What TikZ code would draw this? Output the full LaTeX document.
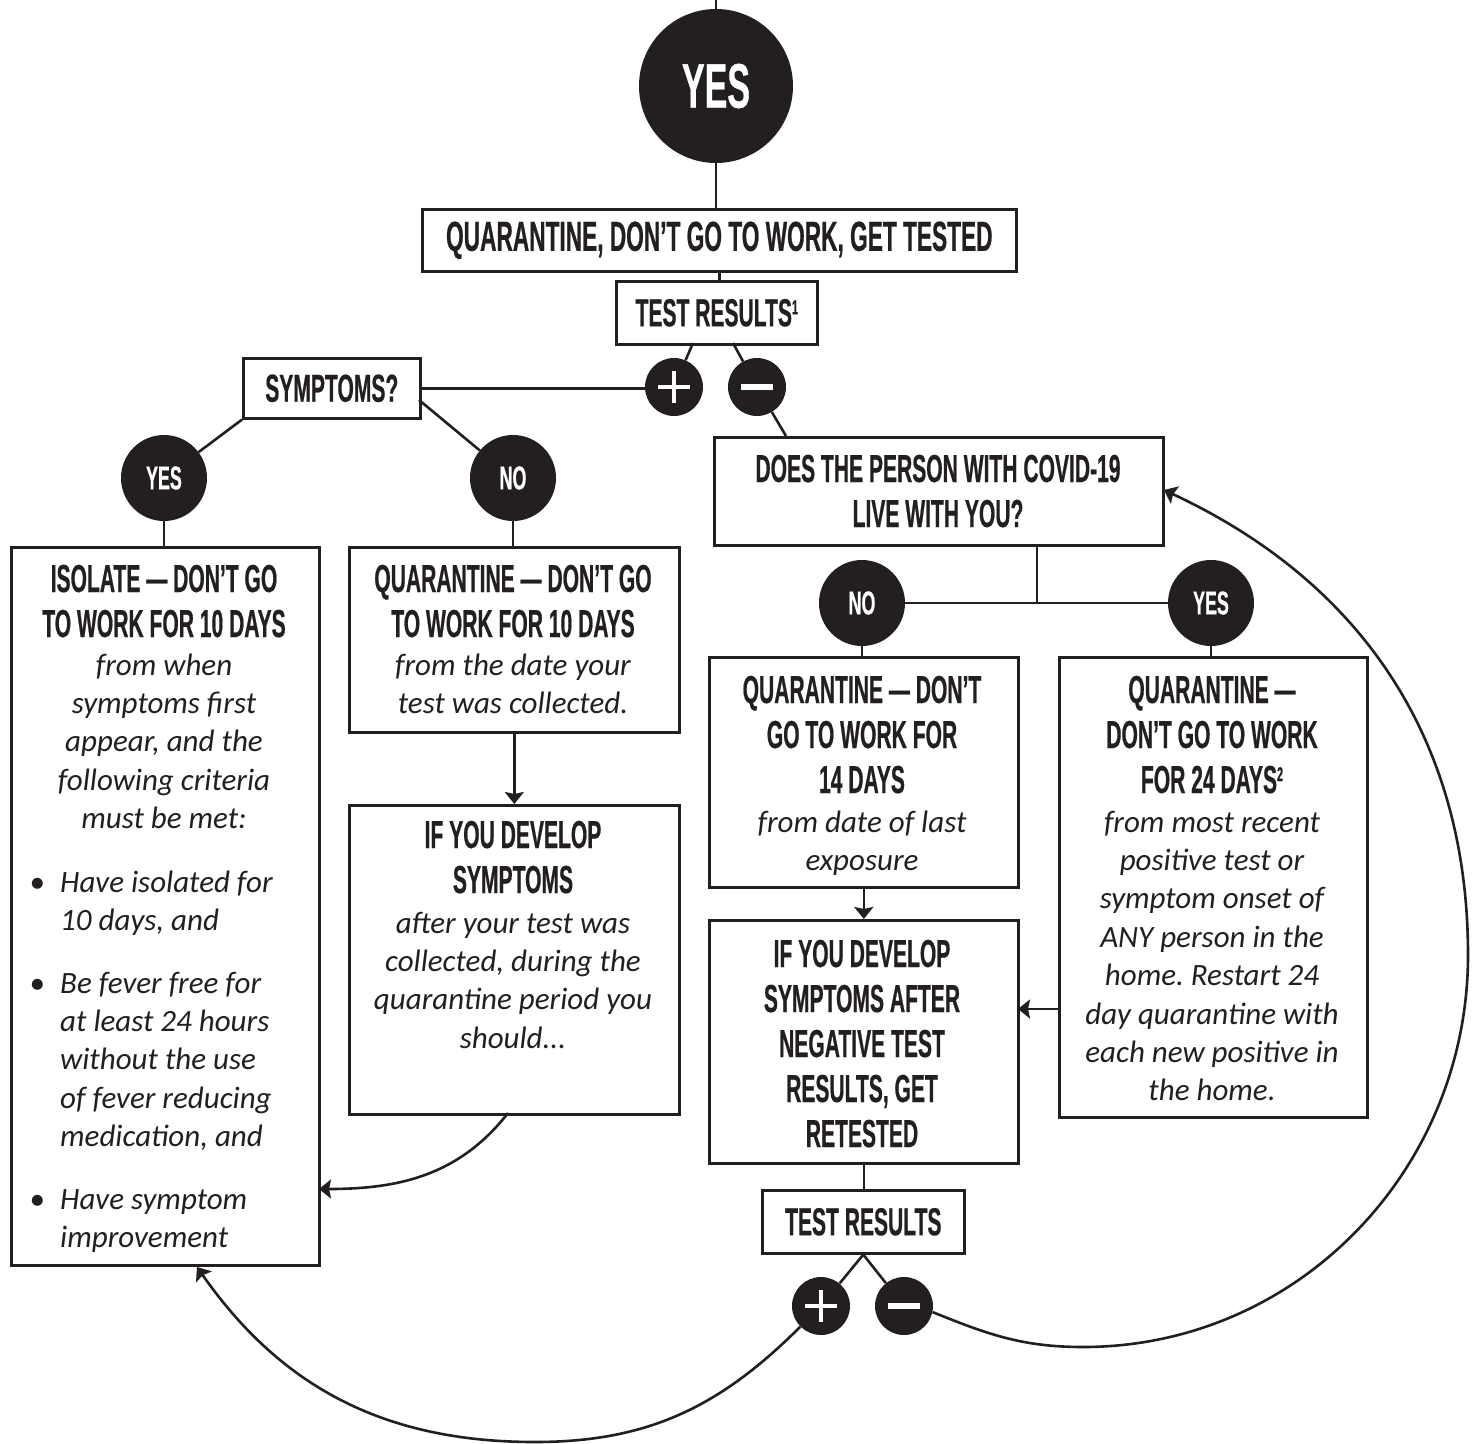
\documentclass[tikz,border=0pt]{standalone}
\usepackage{fontspec}
\usetikzlibrary{arrows.meta}
\newfontfamily\headfont[FakeStretch=0.54, BoldFeatures={FakeBold=0.5}]{Liberation Sans}
\newfontfamily\itfont{Carlito}
\definecolor{ink}{HTML}{231F20}
\frenchspacing
\newcommand{\supnum}[1]{\raisebox{12pt}{\fontsize{20}{20}\selectfont #1}}
\newcommand{\mlc}[1]{\begin{tabular}[t]{@{}c@{}}#1\end{tabular}}
\newcommand{\mll}[1]{\begin{tabular}[t]{@{}l@{}}#1\end{tabular}}
\tikzset{
  box/.style={rectangle, draw=ink, line width=2.6pt, fill=white, inner sep=0pt, anchor=north west,
              font=\headfont\bfseries\fontsize{39}{45}\selectfont, text=ink},
  dot/.style={circle, fill=ink, draw=none, inner sep=0pt, minimum size=86pt, text=white,
              font=\headfont\bfseries\fontsize{33}{33}\selectfont},
  pm/.style={circle, fill=ink, draw=none, inner sep=0pt, minimum size=58pt},
  sign/.style={draw=white, line width=3.2pt},
  signm/.style={draw=white, line width=6pt},
  hd/.style={font=\headfont\bfseries\fontsize{39}{45}\selectfont, text=ink, inner sep=0pt, anchor=base},
  it/.style={font=\itfont\itshape\fontsize{31}{38.4}\selectfont, text=ink, inner sep=0pt, anchor=base},
  itl/.style={it, anchor=base west},
  conn/.style={draw=ink, line width=2.6pt},
  arr/.style={conn, -{Stealth[length=12pt,width=19pt,inset=2pt]}},
}
\begin{document}
\begin{tikzpicture}[x=1pt,y=1pt]
\fill[white] (0,0) rectangle (1475,-1443);
\useasboundingbox (0,0) rectangle (1475,-1443);

% ---------- top ----------
\coordinate (top) at (716,0);
\node[circle, fill=ink, inner sep=0pt, minimum size=154pt, text=white,
      font=\headfont\bfseries\fontsize{63}{63}\selectfont] (bigyes) at (716,-86) {YES};
\node[box, minimum width=594pt, minimum height=62pt, font=\headfont\bfseries\fontsize{42}{48}\selectfont]
   (q1) at (421,-208) {QUARANTINE, DON’T GO TO WORK, GET TESTED};
\node[box, minimum width=201pt, minimum height=63pt] (tr1) at (615,-280) {TEST RESULTS\supnum{1}};
\node[pm] (p1) at (674,-387) {};
\node[pm] (m1) at (757,-387) {};
\node[box, minimum width=177pt, minimum height=60pt] (sym) at (242,-357) {SYMPTOMS?};

% ---------- left ----------
\node[dot] (yes1) at (164,-478) {YES};
\node[dot] (no1) at (513,-478) {NO};
\node[box, minimum width=308pt, minimum height=718pt] (iso) at (10,-546) {};
\node[box, minimum width=330pt, minimum height=185pt] (qno) at (348,-546) {};
\node[box, minimum width=330pt, minimum height=309pt] (dev) at (348,-804) {};

\node[hd] (isoh) at (164,-592) {\mlc{ISOLATE — DON’T GO\\TO WORK FOR 10 DAYS}};
\node[it] (isot) at (164,-675) {\mlc{from when\\symptoms first\\appear, and the\\following criteria\\must be met:}};
\node[it] (d1) at (37,-892) {•};
\node[itl] (b1) at (60,-892) {\mll{Have isolated for\\10 days, and}};
\node[it] (d2) at (37,-993) {•};
\node[itl] (b2) at (60,-993) {\mll{Be fever free for\\at least 24 hours\\without the use\\of fever reducing\\medication, and}};
\node[it] (d3) at (37,-1209) {•};
\node[itl] (b3) at (60,-1209) {\mll{Have symptom\\improvement}};

\node[hd] (qnoh) at (513,-592) {\mlc{QUARANTINE — DON’T GO\\TO WORK FOR 10 DAYS}};
\node[it] (qnot) at (513,-675) {\mlc{from the date your\\test was collected.}};
\node[hd] (devh) at (513,-848) {\mlc{IF YOU DEVELOP\\SYMPTOMS}};
\node[it] (devt) at (513,-933) {\mlc{after your test was\\collected, during the\\quarantine period you\\should...}};

% ---------- right ----------
\node[box, minimum width=449pt, minimum height=108pt] (does) at (713,-436) {};
\node[hd] (doesh) at (938,-482) {\mlc{DOES THE PERSON WITH COVID-19\\LIVE WITH YOU?}};
\node[dot] (no2) at (862,-603) {NO};
\node[dot] (yes2) at (1211,-603) {YES};
\node[box, minimum width=309pt, minimum height=230pt] (q14) at (708,-656) {};
\node[box, minimum width=308pt, minimum height=460pt] (q24) at (1058,-656) {};
\node[box, minimum width=309pt, minimum height=243pt] (dev2) at (708,-919) {};
\node[box, minimum width=202pt, minimum height=63pt] (tr2) at (761,-1189) {TEST RESULTS};
\node[pm] (p2) at (821,-1306) {};
\node[pm] (m2) at (904,-1306) {};

\node[hd] (q14h) at (862,-703) {\mlc{QUARANTINE — DON’T\\GO TO WORK FOR\\14 DAYS}};
\node[it] (q14t) at (862,-832) {\mlc{from date of last\\exposure}};
\node[hd] (q24h) at (1212,-703) {\mlc{QUARANTINE —\\DON’T GO TO WORK\\FOR 24 DAYS\supnum{2}}};
\node[it] (q24t) at (1212,-832) {\mlc{from most recent\\positive test or\\symptom onset of\\ANY person in the\\home. Restart 24\\day quarantine with\\each new positive in\\the home.}};
\node[hd] (dev2h) at (862,-967) {\mlc{IF YOU DEVELOP\\SYMPTOMS AFTER\\NEGATIVE TEST\\RESULTS, GET\\RETESTED}};

% ---------- plus / minus signs ----------
\foreach \c in {p1,p2}{
  \draw[sign] ([xshift=-16pt]\c.center) -- ([xshift=16pt]\c.center);
  \draw[sign] ([yshift=-16pt]\c.center) -- ([yshift=16pt]\c.center);
}
\foreach \c in {m1,m2}{
  \draw[signm] ([xshift=-16pt]\c.center) -- ([xshift=16pt]\c.center);
}

% ---------- helper coordinates ----------
\coordinate (tr1a) at (693,-343);
\coordinate (tr1b) at (733,-343);
\coordinate (doestop) at (786,-436);
\coordinate (symr) at (419,-400);
\coordinate (dbot) at (1037,-544);
\coordinate (djoin) at (1037,-604);
\coordinate (devout) at (508,-1113);
\coordinate (isoin) at (319,-1189);
\coordinate (isob) at (197,-1267);
\coordinate (q24out) at (1058,-1009);
\coordinate (dev2in) at (1018,-1009);
\coordinate (doesin) at (1164,-490);
\coordinate (lowL) at (535,-1442);
\coordinate (lowR) at (1083,-1347);
\coordinate (farR) at (1468,-955);

% ---------- connectors ----------
\draw[conn] (top) -- (bigyes.north);
\draw[conn] (bigyes.south) -- (bigyes.south |- q1.north);
\draw[conn] (q1.south) -- (q1.south |- tr1.north);
\draw[conn] (tr1a) -- (p1);
\draw[conn] (tr1b) -- (m1);
\draw[conn] (m1) -- (doestop);
\draw[conn] (sym.east) -- (sym.east -| p1.west);
\draw[conn] (sym.south west) -- (yes1);
\draw[conn] (symr) -- (no1);
\draw[conn] (yes1.south) -- (yes1.south |- iso.north);
\draw[conn] (no1.south) -- (no1.south |- qno.north);
\draw[arr] (qno.south) -- (dev.north);
\draw[arr] (devout) to[out=-128, in=0] (isoin);
\draw[conn] (dbot) -- (djoin);
\draw[conn] (no2.east) -- (yes2.west);
\draw[conn] (no2.south) -- (no2.south |- q14.north);
\draw[conn] (yes2.south) -- (yes2.south |- q24.north);
\draw[arr] (q14.south) -- (q14.south |- dev2.north);
\draw[arr] (q24out) -- (dev2in);
\draw[conn] (dev2.south) -- (dev2.south |- tr2.north);
\draw[conn] (tr2.south) -- (p2);
\draw[conn] (tr2.south) -- (m2);
\draw[arr] (p2.-135) to[out=-135, in=0] (lowL) to[out=180, in=-55] (isob);
\draw[arr] (m2.-12) to[out=-22, in=180] (lowR) to[out=0, in=-90] (farR) to[out=90, in=-25] (doesin);
\end{tikzpicture}
\end{document}
